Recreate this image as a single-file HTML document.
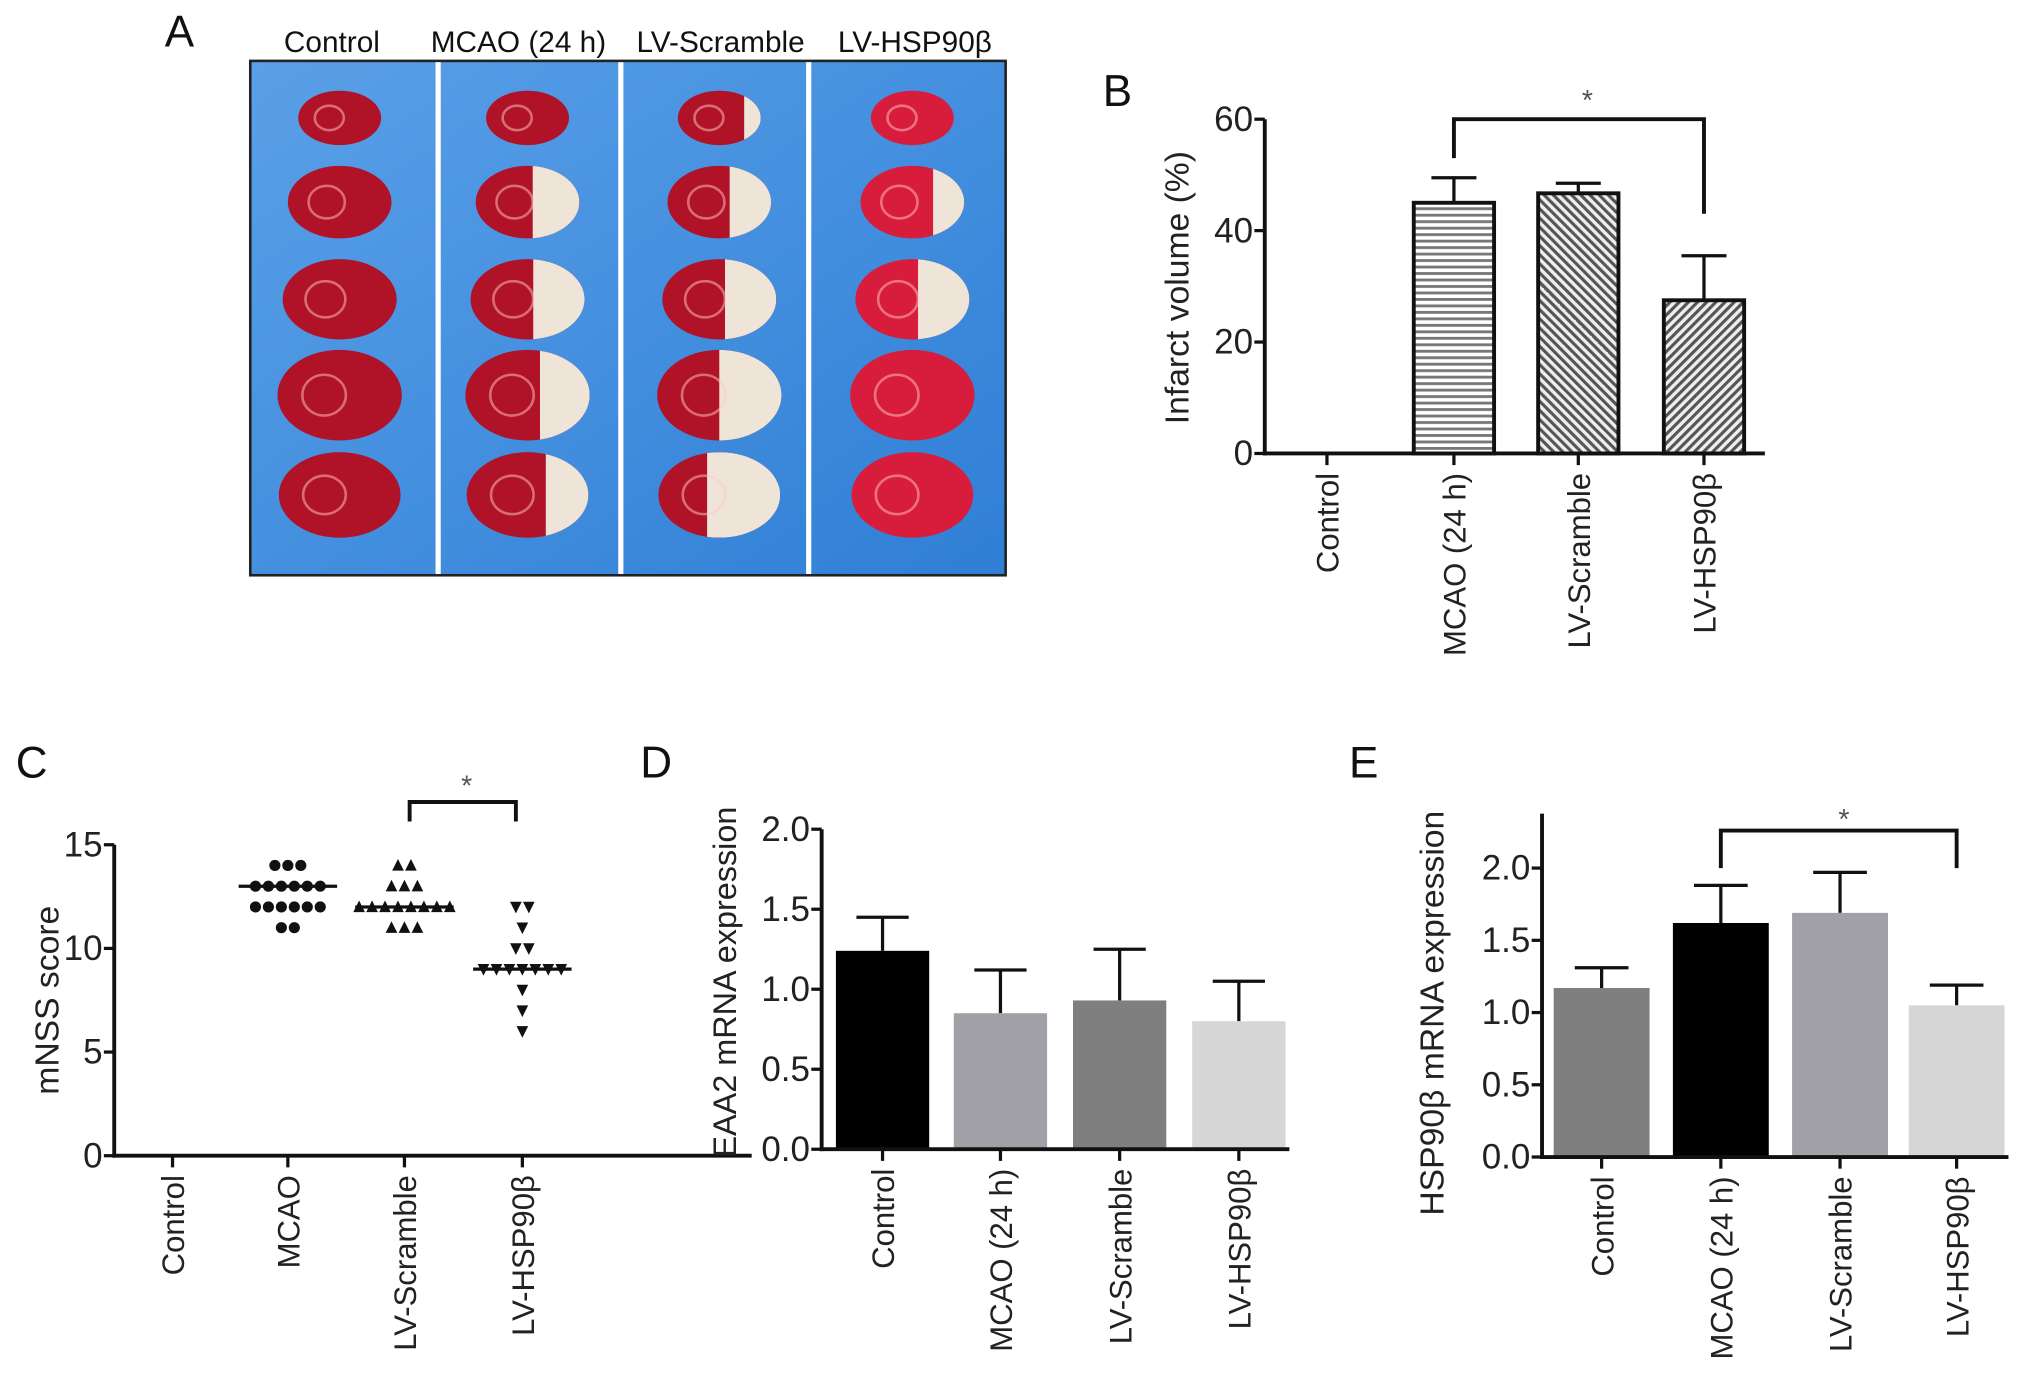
<!DOCTYPE html>
<html><head><meta charset="utf-8">
<style>
html,body{margin:0;padding:0;background:#fff;}
svg{display:block;font-family:"Liberation Sans","DejaVu Sans",sans-serif;}
</style></head>
<body>
<svg id="fig" width="2032" height="1398" viewBox="0 0 1568 1079" xmlns="http://www.w3.org/2000/svg">
<defs>
<pattern id="hstripe" width="6" height="5" patternUnits="userSpaceOnUse"><rect width="6" height="5" fill="#fff"/><rect y="0" width="6" height="2.2" fill="#777"/></pattern>
<pattern id="dstripe" width="5" height="5" patternUnits="userSpaceOnUse" patternTransform="rotate(45)"><rect width="5" height="5" fill="#eee"/><rect width="2.4" height="5" fill="#555"/></pattern>
<pattern id="dstripe2" width="5" height="5" patternUnits="userSpaceOnUse" patternTransform="rotate(-45)"><rect width="5" height="5" fill="#eee"/><rect width="2.4" height="5" fill="#555"/></pattern>
<linearGradient id="blue" x1="0" y1="0" x2="1" y2="1"><stop offset="0" stop-color="#5aa0e8"/><stop offset="1" stop-color="#2f7fd6"/></linearGradient>
</defs>
<g id="panelA"></g>
<g id="panelB"></g>
<g id="panelC"></g>
<g id="panelD"></g>
<g id="panelE"></g>
</svg>
<script>
// ---- Panel B data ----
const bCategories = ["Control","MCAO (24 h)","LV-Scramble","LV-HSP90β"];
const bValues = [0, 45, 46.7, 27.5];
const bErrors = [0, 4.5, 1.8, 8];
const bTicks = [0, 20, 40, 60];
// ---- Panel C data ----
const cCategories = ["Control","MCAO","LV-Scramble","LV-HSP90β"];
const cMcao = [14,14,14,13,13,13,13,13,13,12,12,12,12,12,12,11,11];
const cScramble = [14,14,13,13,13,12,12,12,12,12,12,12,12,11,11,11];
const cHsp = [12,12,11,10,10,9,9,9,9,9,9,9,8,7,6];
const cMedians = [null, 13, 12, 9];
const cTicks = [0, 5, 10, 15];
// ---- Panel D data ----
const dCategories = ["Control","MCAO (24 h)","LV-Scramble","LV-HSP90β"];
const dValues = [1.24, 0.85, 0.93, 0.80];
const dErrors = [0.21, 0.27, 0.32, 0.25];
const dTicks = [0.0, 0.5, 1.0, 1.5, 2.0];
// ---- Panel E data ----
const eCategories = ["Control","MCAO (24 h)","LV-Scramble","LV-HSP90β"];
const eValues = [1.17, 1.62, 1.69, 1.05];
const eErrors = [0.14, 0.26, 0.28, 0.14];
const eTicks = [0.0, 0.5, 1.0, 1.5, 2.0];

const NS = "http://www.w3.org/2000/svg";
function mk(parent, tag, attrs, text){
  const e = document.createElementNS(NS, tag);
  for (const k in attrs) e.setAttribute(k, attrs[k]);
  if (text !== undefined) e.textContent = text;
  parent.appendChild(e);
  return e;
}
function linScale(d0,d1,r0,r1){ return v => r0 + (v-d0)/(d1-d0)*(r1-r0); }

function axes(g, o){
  const ax = mk(g,'line',{x1:o.x0,y1:o.yTop!==undefined?o.yTop:o.y(o.ticks[o.ticks.length-1]),x2:o.x0,y2:o.yBot+1.5,stroke:'#111','stroke-width':3});
  
  
  const bx = mk(g,'line',{x1:o.x0-1.5,y1:o.yBot,x2:o.x1,y2:o.yBot,stroke:'#111','stroke-width':3});
  
  
  o.ticks.forEach(t=>{
    const yy=o.y(t);
    mk(g,'line',{x1:o.x0-8,y1:yy,x2:o.x0,y2:yy,stroke:'#111','stroke-width':2.5});
    const tl = mk(g,'text',{x:o.x0-9,y:yy+9,'text-anchor':'end','font-size':27,fill:'#222'},o.fmt(t));
    
    
  });
  o.centers.forEach((cx,i)=>{
    mk(g,'line',{x1:cx,y1:o.yBot,x2:cx,y2:o.yBot+9,stroke:'#111','stroke-width':2.5});
    const xl = mk(g,'text',{x:0,y:0,'text-anchor':'end','font-size':24,fill:'#222',transform:`translate(${cx+9},${o.yBot+15}) rotate(-90)`},o.cats[i]);
    
    
  });
  const yt = mk(g,'text',{x:0,y:0,'text-anchor':'middle','font-size':o.titleSize||26,fill:'#222',transform:`translate(${o.titleX},${o.titleY}) rotate(-90)`},o.title);
  
  
  const pl = mk(g,'text',{x:o.lx,y:o.ly,'font-size':34,fill:'#111'},o.letter);
  
  
}
function bracket(g,xa,ya,xb,yb,ytop,sx,sy){
  const p = mk(g,'path',{d:`M${xa},${ya} L${xa},${ytop} L${xb},${ytop} L${xb},${yb}`,fill:'none',stroke:'#111','stroke-width':3});
  
  
  const s = mk(g,'text',{x:sx,y:sy,'text-anchor':'middle','font-size':22,fill:'#555'},'*');
  
  
}
function bars(g, centers, vals, errs, y, yBot, w, fills, strokeW){
  vals.forEach((v,i)=>{
    if (v<=0) return;
    const cx=centers[i], top=y(v), et=y(v+errs[i]);
    const el = mk(g,'line',{x1:cx,y1:top,x2:cx,y2:et,stroke:'#111','stroke-width':2.5});
    
    
    mk(g,'line',{x1:cx-w*0.28,y1:et,x2:cx+w*0.28,y2:et,stroke:'#111','stroke-width':2.5});
    const r = mk(g,'rect',{x:cx-w/2,y:top,width:w,height:yBot-top,fill:fills[i],stroke:strokeW?'#111':'none','stroke-width':strokeW||0});
    
    
  });
}

// ---- Panel A (photo) ----
(function(){
  const g=document.getElementById('panelA');
  const t=mk(g,'text',{x:127,y:36,'font-size':34,fill:'#111'},'A');
  
  
  const bg = mk(g,'rect',{x:193,y:47,width:583,height:397,fill:'url(#blue)',stroke:'#222','stroke-width':2});
  
  
  [338,479,624].forEach(x=>mk(g,'rect',{x:x-2,y:48,width:4,height:395,fill:'#fff'}));
  const heads=["Control","MCAO (24 h)","LV-Scramble","LV-HSP90β"], hx=[256,400,556,706];
  heads.forEach((h,i)=>{
    const e=mk(g,'text',{x:hx[i],y:40,'text-anchor':'middle','font-size':23,fill:'#111'},h);
    
    
  });
  const colX=[262,407,555,704], rowY=[91,156,231,305,382], rx=[32,40,44,48,47], ry=[21,28,31,35,33];
  const pale=[[0,0,0,0,0],[0,0.45,0.45,0.4,0.35],[0.2,0.4,0.45,0.5,0.6],[0,0.3,0.45,0,0]];
  colX.forEach((cx,c)=>rowY.forEach((cy,r)=>{
    const id='cl'+c+'_'+r;
    const cp=mk(g.ownerSVGElement.querySelector('defs'),'clipPath',{id:id});
    mk(cp,'ellipse',{cx:cx,cy:cy,rx:rx[r],ry:ry[r]});
    const red = c===3?'#d81c3c':'#b01228';
    const sl=mk(g,'ellipse',{cx:cx,cy:cy,rx:rx[r],ry:ry[r],fill:red});
    
    
    const p=pale[c][r];
    if(p>0){
      const w=rx[r]*2*p;
      mk(g,'rect',{x:cx+rx[r]-w,y:cy-ry[r],width:w,height:ry[r]*2,fill:'#efe4d8','clip-path':`url(#${id})`});
    }
    mk(g,'ellipse',{cx:cx-rx[r]*0.25,cy:cy,rx:rx[r]*0.35,ry:ry[r]*0.45,fill:'none',stroke:'rgba(255,200,200,0.5)','stroke-width':2});
  }));
})();

// ---- Panel B ----
(function(){
  const g=document.getElementById('panelB');
  const yBot=350, y=linScale(0,60,350,92), centers=[1024,1122,1218,1315];
  bars(g,centers,bValues,bErrors,y,yBot,62,['#fff','url(#hstripe)','url(#dstripe2)','url(#dstripe)'],3);
  axes(g,{x0:976,x1:1362,yBot:yBot,y:y,ticks:bTicks,fmt:t=>String(t),centers:centers,cats:bCategories,title:'Infarct volume (%)',titleX:917,titleY:222,letter:'B',lx:851,ly:82});
  bracket(g,1122,122,1315,165,92,1225,85);
})();

// ---- Panel C ----
(function(){
  const g=document.getElementById('panelC');
  const yBot=892, y=linScale(0,15,892,652), centers=[133,222,312,403];
  axes(g,{x0:88,x1:580,yBot:yBot,y:y,ticks:cTicks,fmt:t=>String(t),centers:centers,cats:cCategories,title:'mNSS score',titleX:45,titleY:772,letter:'C',lx:12,ly:600});
  const groups=[[],cMcao,cScramble,cHsp];
  groups.forEach((arr,gi)=>{
    const counts={};
    arr.forEach(v=>counts[v]=(counts[v]||0)+1);
    Object.keys(counts).forEach(k=>{
      const v=+k,n=counts[k];
      for(let j=0;j<n;j++){
        const px=centers[gi]+(j-(n-1)/2)*10, py=y(v);
        let m;
        if(gi===1) m=mk(g,'circle',{cx:px,cy:py,r:4.3,fill:'#111'});
        else if(gi===2) m=mk(g,'path',{d:`M${px},${py-5} L${px+4.5},${py+4} L${px-4.5},${py+4}Z`,fill:'#111'});
        else m=mk(g,'path',{d:`M${px},${py+5} L${px+4.5},${py-4} L${px-4.5},${py-4}Z`,fill:'#111'});
        
        
      }
    });
    if(cMedians[gi]!==null){
      const ml=mk(g,'line',{x1:centers[gi]-38,y1:y(cMedians[gi]),x2:centers[gi]+38,y2:y(cMedians[gi]),stroke:'#111','stroke-width':2.5});
      
      
    }
  });
  bracket(g,316,634,398,634,619,360,614);
})();

// ---- Panel D ----
(function(){
  const g=document.getElementById('panelD');
  const yBot=887, y=linScale(0,2,887,640), centers=[681,772,864,956];
  bars(g,centers,dValues,dErrors,y,yBot,72,['#000','#a0a0a6','#7f7f7f','#d6d6d6'],0);
  axes(g,{x0:634,x1:995,yBot:yBot,y:y,ticks:dTicks,fmt:t=>t.toFixed(1),centers:centers,cats:dCategories,title:'EAA2 mRNA expression',titleSize:25,titleX:568,titleY:758,letter:'D',lx:494,ly:600});
})();

// ---- Panel E ----
(function(){
  const g=document.getElementById('panelE');
  const yBot=893, y=linScale(0,2,893,670), centers=[1236,1328,1420,1510];
  bars(g,centers,eValues,eErrors,y,yBot,74,['#7f7f7f','#000','#a0a0a6','#d6d6d6'],0);
  axes(g,{x0:1190,x1:1550,yBot:yBot,y:y,yTop:628,ticks:eTicks,fmt:t=>t.toFixed(1),centers:centers,cats:eCategories,title:'HSP90β mRNA expression',titleX:1114,titleY:782,letter:'E',lx:1041,ly:600});
  bracket(g,1328,670,1510,670,641,1423,640);
})();
</script>
</body></html>
